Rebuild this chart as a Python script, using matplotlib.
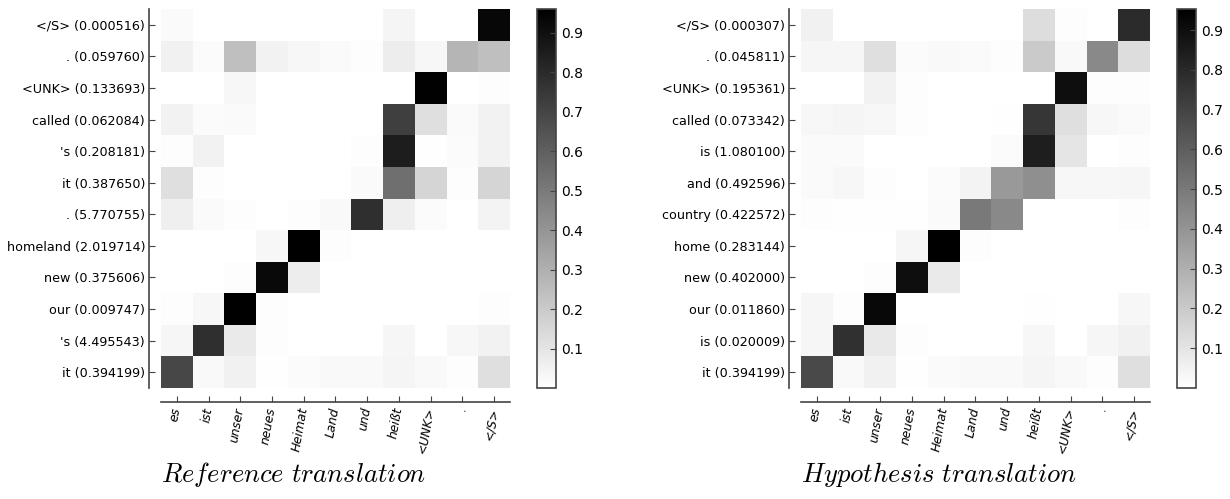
#!/usr/bin/env python3
"""Attention heatmaps: reference vs hypothesis translation."""

import matplotlib
import numpy as np

matplotlib.use("Agg")
import matplotlib.pyplot as plt

plt.rcParams["mathtext.fontset"] = "cm"

source_tokens = ["es", "ist", "unser", "neues", "Heimat", "Land", "und", "heißt", "<UNK>", ".", "</S>"]

# rows listed bottom -> top
ref_labels = [
    "it (0.394199)", "'s (4.495543)", "our (0.009747)", "new (0.375606)",
    "homeland (2.019714)", ". (5.770755)", "it (0.387650)", "'s (0.208181)",
    "called (0.062084)", "<UNK> (0.133693)", ". (0.059760)", "</S> (0.000516)",
]
hyp_labels = [
    "it (0.394199)", "is (0.020009)", "our (0.011860)", "new (0.402000)",
    "home (0.283144)", "country (0.422572)", "and (0.492596)", "is (1.080100)",
    "called (0.073342)", "<UNK> (0.195361)", ". (0.045811)", "</S> (0.000307)",
]

ref_attention = [
    [0.69, 0.025, 0.055, 0.005, 0.015, 0.025, 0.025, 0.04, 0.025, 0.01, 0.12],
    [0.035, 0.78, 0.08, 0.01, 0.0, 0.0, 0.0, 0.035, 0.0, 0.03, 0.05],
    [0.01, 0.03, 0.96, 0.01, 0.0, 0.0, 0.0, 0.0, 0.0, 0.0, 0.01],
    [0.0, 0.0, 0.01, 0.92, 0.07, 0.0, 0.0, 0.0, 0.0, 0.0, 0.0],
    [0.0, 0.0, 0.0, 0.03, 0.96, 0.01, 0.0, 0.0, 0.0, 0.0, 0.0],
    [0.06, 0.02, 0.01, 0.0, 0.01, 0.025, 0.78, 0.06, 0.015, 0.0, 0.045],
    [0.12, 0.01, 0.0, 0.0, 0.0, 0.0, 0.02, 0.54, 0.16, 0.01, 0.16],
    [0.01, 0.05, 0.0, 0.0, 0.0, 0.0, 0.01, 0.85, 0.005, 0.015, 0.05],
    [0.05, 0.015, 0.02, 0.0, 0.0, 0.0, 0.0, 0.72, 0.12, 0.02, 0.05],
    [0.0, 0.0, 0.03, 0.0, 0.0, 0.0, 0.0, 0.0, 0.95, 0.0, 0.01],
    [0.055, 0.015, 0.24, 0.05, 0.03, 0.02, 0.01, 0.07, 0.03, 0.28, 0.24],
    [0.02, 0.0, 0.0, 0.0, 0.0, 0.0, 0.0, 0.04, 0.0, 0.0, 0.93],
]
hyp_attention = [
    [0.68, 0.025, 0.055, 0.005, 0.02, 0.025, 0.025, 0.04, 0.025, 0.01, 0.12],
    [0.035, 0.77, 0.085, 0.01, 0.0, 0.0, 0.0, 0.03, 0.0, 0.035, 0.055],
    [0.035, 0.01, 0.92, 0.0, 0.0, 0.0, 0.0, 0.005, 0.0, 0.0, 0.03],
    [0.0, 0.0, 0.01, 0.90, 0.08, 0.0, 0.0, 0.0, 0.0, 0.0, 0.0],
    [0.0, 0.0, 0.0, 0.035, 0.953, 0.01, 0.0, 0.0, 0.0, 0.0, 0.0],
    [0.01, 0.005, 0.005, 0.005, 0.02, 0.50, 0.44, 0.0, 0.0, 0.0, 0.01],
    [0.02, 0.03, 0.01, 0.0, 0.015, 0.045, 0.38, 0.42, 0.03, 0.03, 0.035],
    [0.02, 0.02, 0.0, 0.0, 0.0, 0.0, 0.015, 0.84, 0.10, 0.0, 0.01],
    [0.03, 0.04, 0.03, 0.01, 0.0, 0.0, 0.005, 0.75, 0.12, 0.03, 0.02],
    [0.0, 0.0, 0.05, 0.01, 0.0, 0.0, 0.0, 0.0, 0.90, 0.01, 0.01],
    [0.035, 0.035, 0.12, 0.015, 0.025, 0.02, 0.01, 0.20, 0.025, 0.44, 0.13],
    [0.055, 0.0, 0.0, 0.0, 0.0, 0.0, 0.0, 0.13, 0.01, 0.0, 0.79],
]

SPINE = "#444444"


def draw_panel(fig, rect, cbar_rect, data, ylabels, title):
    ax = fig.add_axes(rect)
    im = ax.imshow(np.array(data), cmap="gray_r", origin="lower",
                   aspect="auto", interpolation="nearest")
    for side in ("top", "right"):
        ax.spines[side].set_visible(False)
    ax.spines["left"].set_position(("outward", 8.5))
    ax.spines["bottom"].set_position(("outward", 10))
    for side in ("left", "bottom"):
        ax.spines[side].set_color(SPINE)
        ax.spines[side].set_linewidth(1.2)
    ax.tick_params(axis="y", direction="in", length=4, pad=3, color=SPINE)
    ax.tick_params(axis="x", direction="in", length=4, pad=4, color=SPINE)

    ax.set_xticks(range(len(source_tokens)))
    ax.set_xticklabels(source_tokens)
    plt.setp(ax.get_xticklabels(), rotation=80, rotation_mode="anchor",
             ha="right", va="center", fontsize=8.9, style="italic")
    ax.set_yticks(range(len(ylabels)))
    ax.set_yticklabels(ylabels, fontsize=9.2)

    cax = fig.add_axes(cbar_rect)
    ticks = np.arange(1, 10) / 10
    cb = fig.colorbar(im, cax=cax, ticks=ticks)
    cb.ax.set_yticklabels([f"{t:.1f}" for t in ticks])
    cb.outline.set_edgecolor(SPINE)
    cb.outline.set_linewidth(1.2)
    cax.tick_params(direction="in", length=4, pad=4, labelsize=10, color=SPINE)

    fig.text(rect[0], 0.078, title, fontsize=19.2, ha="left", va="top")


fig = plt.figure(figsize=(12.3, 4.99), dpi=100)
draw_panel(fig, [0.1309, 0.2224, 0.2837, 0.7595], [0.4366, 0.2224, 0.0154, 0.7595],
           ref_attention, ref_labels, r"$Reference\ translation$")
draw_panel(fig, [0.6512, 0.2224, 0.2837, 0.7595], [0.9569, 0.2224, 0.0154, 0.7595],
           hyp_attention, hyp_labels, r"$Hypothesis\ translation$")
fig.savefig("out.png", dpi=100)
plt.close(fig)
